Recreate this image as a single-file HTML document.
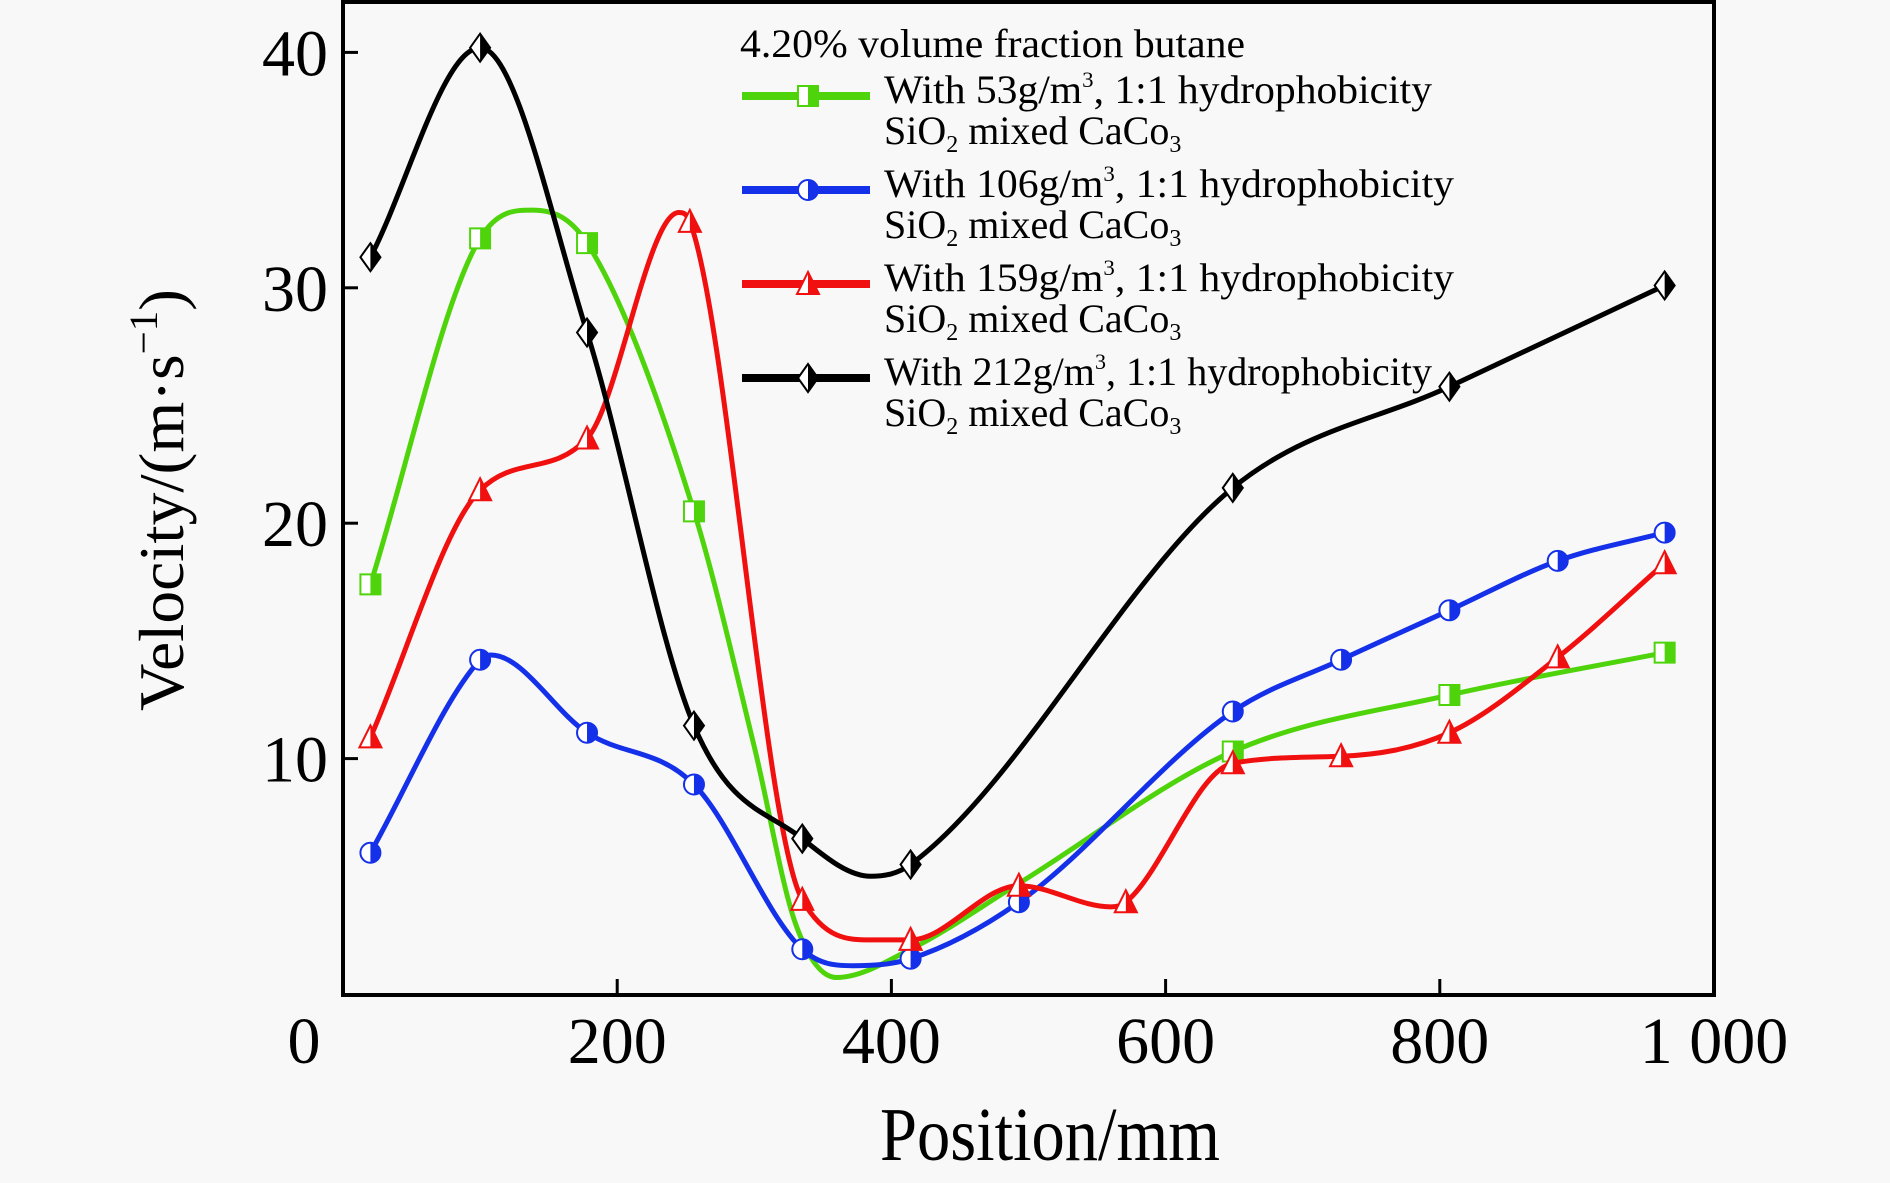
<!DOCTYPE html>
<html><head><meta charset="utf-8"><style>
html,body{margin:0;padding:0;background:#f8f8f8;}
svg{display:block;font-family:"Liberation Serif",serif;}
</style></head><body>
<svg id="chart" width="1890" height="1183" viewBox="0 0 1890 1183" xmlns="http://www.w3.org/2000/svg">
<rect x="0" y="0" width="1890" height="1183" fill="#f8f8f8"/>
<g id="series"></g>
<g id="axes"></g>
<g id="legend">
<text x="740" y="57" font-size="40" textLength="505" lengthAdjust="spacingAndGlyphs">4.20% volume fraction butane</text>
</g>
<text x="1050" y="1160" font-size="76" text-anchor="middle" textLength="340" lengthAdjust="spacingAndGlyphs">Position/mm</text>
<text transform="translate(183,500) rotate(-90)" font-size="64" text-anchor="middle" textLength="422" lengthAdjust="spacingAndGlyphs">Velocity/(m·s<tspan font-size="40" dy="-26">−1</tspan><tspan dy="26">)</tspan></text>
</svg>
<script>
const xTicks = [0, 200, 400, 600, 800, 1000];
const xTickLabels = ["0", "200", "400", "600", "800", "1 000"];
const yTicks = [10, 20, 30, 40];
const yTickLabels = ["10", "20", "30", "40"];

const greenX = [20, 100, 138, 178, 256, 300, 330, 360, 414, 493, 649, 807, 964];
const greenY = [17.4, 32.1, 33.3, 31.9, 20.5, 10.5, 3.0, 0.7, 1.9, 4.7, 10.3, 12.7, 14.5];
const greenMarked = [1, 1, 0, 1, 1, 0, 0, 0, 0, 0, 1, 1, 1];

const blueX = [20, 100, 108, 178, 256, 335, 372, 414, 493, 649, 728, 807, 886, 964];
const blueY = [6.0, 14.2, 14.4, 11.1, 8.9, 1.9, 1.2, 1.5, 3.9, 12.0, 14.2, 16.3, 18.4, 19.6];
const blueMarked = [1, 1, 0, 1, 1, 1, 0, 1, 1, 1, 1, 1, 1, 1];

const redX = [20, 100, 178, 245, 253, 335, 385, 414, 493, 560, 571, 649, 728, 807, 886, 964];
const redY = [10.9, 21.4, 23.6, 33.2, 32.8, 4.0, 2.3, 2.3, 4.6, 3.7, 3.9, 9.8, 10.1, 11.1, 14.3, 18.3];
const redMarked = [1, 1, 1, 0, 1, 1, 0, 1, 1, 0, 1, 1, 1, 1, 1, 1];

const blackX = [20, 100, 178, 256, 335, 385, 414, 649, 807, 964];
const blackY = [31.3, 40.2, 28.1, 11.4, 6.6, 5.0, 5.5, 21.5, 25.8, 30.1];
const blackMarked = [1, 1, 1, 1, 1, 0, 1, 1, 1, 1];

const X0 = 343, X1 = 1714, Y0 = 994, YPER = 23.54;
function sx(v){ return X0 + (v / 1000) * (X1 - X0); }
function sy(v){ return Y0 - v * YPER; }
const NS = "http://www.w3.org/2000/svg";
function mk(tag, attrs, parent){ const e = document.createElementNS(NS, tag); for (const k in attrs) e.setAttribute(k, attrs[k]); parent.appendChild(e); return e; }

// monotone cubic (Fritsch-Carlson) in data space
function pathFor(xs, ys){
  const n = xs.length, d = [], m = [];
  for (let i=0;i<n-1;i++) d.push((ys[i+1]-ys[i])/(xs[i+1]-xs[i]));
  m[0] = d[0]; m[n-1] = d[n-2];
  for (let i=1;i<n-1;i++) m[i] = (d[i-1]*d[i] <= 0) ? 0 : (d[i-1]+d[i])/2;
  for (let i=0;i<n-1;i++){
    if (d[i] === 0){ m[i]=0; m[i+1]=0; continue; }
    const a = m[i]/d[i], b = m[i+1]/d[i], s = a*a+b*b;
    if (s > 9){ const t = 3/Math.sqrt(s); m[i]=t*a*d[i]; m[i+1]=t*b*d[i]; }
  }
  let p = "M" + sx(xs[0]) + "," + sy(ys[0]);
  for (let i=0;i<n-1;i++){
    const h = (xs[i+1]-xs[i])/3;
    p += " C" + sx(xs[i]+h) + "," + sy(ys[i]+m[i]*h) + " " + sx(xs[i+1]-h) + "," + sy(ys[i+1]-m[i+1]*h) + " " + sx(xs[i+1]) + "," + sy(ys[i+1]);
  }
  return p;
}

function marker(g, type, cx, cy, color){
  const s = 10;
  let full, right;
  if (type === "square"){ full = `M${cx-s},${cy-s}H${cx+s}V${cy+s}H${cx-s}Z`; right = `M${cx},${cy-s}H${cx+s}V${cy+s}H${cx}Z`; }
  else if (type === "circle"){ full = `M${cx},${cy-s}A${s},${s} 0 1 1 ${cx},${cy+s}A${s},${s} 0 1 1 ${cx},${cy-s}Z`; right = `M${cx},${cy-s}A${s},${s} 0 0 1 ${cx},${cy+s}Z`; }
  else if (type === "triangle"){ full = `M${cx},${cy-s-2}L${cx+s+1},${cy+s}H${cx-s-1}Z`; right = `M${cx},${cy-s-2}L${cx+s+1},${cy+s}H${cx}Z`; }
  else { full = `M${cx},${cy-s-4}L${cx+s},${cy}L${cx},${cy+s+4}L${cx-s},${cy}Z`; right = `M${cx},${cy-s-4}L${cx+s},${cy}L${cx},${cy+s+4}Z`; }
  mk("path", {d: full, fill: "#fff", stroke: color, "stroke-width": 2}, g);
  mk("path", {d: right, fill: color}, g);
}

const seriesG = document.getElementById("series");
const seriesDefs = [
  {name:"series-53", xs:greenX, ys:greenY, m:greenMarked, color:"#4fd40c", type:"square"},
  {name:"series-106", xs:blueX, ys:blueY, m:blueMarked, color:"#1430e8", type:"circle"},
  {name:"series-159", xs:redX, ys:redY, m:redMarked, color:"#f01010", type:"triangle"},
  {name:"series-212", xs:blackX, ys:blackY, m:blackMarked, color:"#000", type:"diamond"}
];
seriesDefs.forEach(s=>{
  const g = mk("g", {}, seriesG);
  
  
  const line = mk("path", {d: pathFor(s.xs, s.ys), fill:"none", stroke:s.color, "stroke-width":5}, g);
  
  
  s.xs.forEach((x,i)=>{
    if (s.m && !s.m[i]) return;
    const mg = mk("g", {}, g);
    
    
    marker(mg, s.type, sx(x), sy(s.ys[i]), s.color);
  });
});

const axes = document.getElementById("axes");
const frame = mk("path", {d:`M${X0},${Y0+1}V2H${X1}V${Y0+1}Z`, fill:"none", stroke:"#000", "stroke-width":4}, axes);


xTicks.forEach((t,i)=>{
  const tk = mk("line", {x1:sx(t), x2:sx(t), y1:Y0, y2:Y0-15, stroke:"#000", "stroke-width":3}, axes);
  
  
  const lx = i === 0 ? 304 : sx(t);
  const lb = mk("text", {x:lx, y:1063, "font-size":66, "text-anchor":"middle"}, axes);
  
  
  lb.textContent = xTickLabels[i];
});
yTicks.forEach((t,i)=>{
  const tk = mk("line", {x1:X0, x2:X0+15, y1:sy(t), y2:sy(t), stroke:"#000", "stroke-width":3}, axes);
  
  
  const lb = mk("text", {x:328, y:sy(t)+23, "font-size":66, "text-anchor":"end"}, axes);
  
  
  lb.textContent = yTickLabels[i];
});

const legendG = document.getElementById("legend");
const legendText = ["53", "106", "159", "212"];
const legendW = [548, 570, 570, 548];
seriesDefs.forEach((s,i)=>{
  const ly = 96 + i*94;
  const g = mk("g", {}, legendG);
  
  
  mk("line", {x1:742, x2:870, y1:ly, y2:ly, stroke:s.color, "stroke-width":8}, g);
  marker(g, s.type, 808, ly, s.color);
  const t1 = mk("text", {x:884, y:ly+7, "font-size":40, textLength:legendW[i], lengthAdjust:"spacingAndGlyphs"}, g);
  t1.textContent = "With " + legendText[i] + "g/m";
  const sup = mk("tspan", {"font-size":22, dy:-16}, t1); sup.textContent = "3";
  const rest = mk("tspan", {dy:16}, t1); rest.textContent = ", 1:1 hydrophobicity";
  const t2 = mk("text", {x:884, y:ly+48, "font-size":40}, g);
  t2.textContent = "SiO";
  const s2 = mk("tspan", {"font-size":24, dy:8}, t2); s2.textContent = "2";
  const r2 = mk("tspan", {dy:-8}, t2); r2.textContent = " mixed CaCo";
  const s3 = mk("tspan", {"font-size":24, dy:8}, t2); s3.textContent = "3";
});
</script>
</body></html>
